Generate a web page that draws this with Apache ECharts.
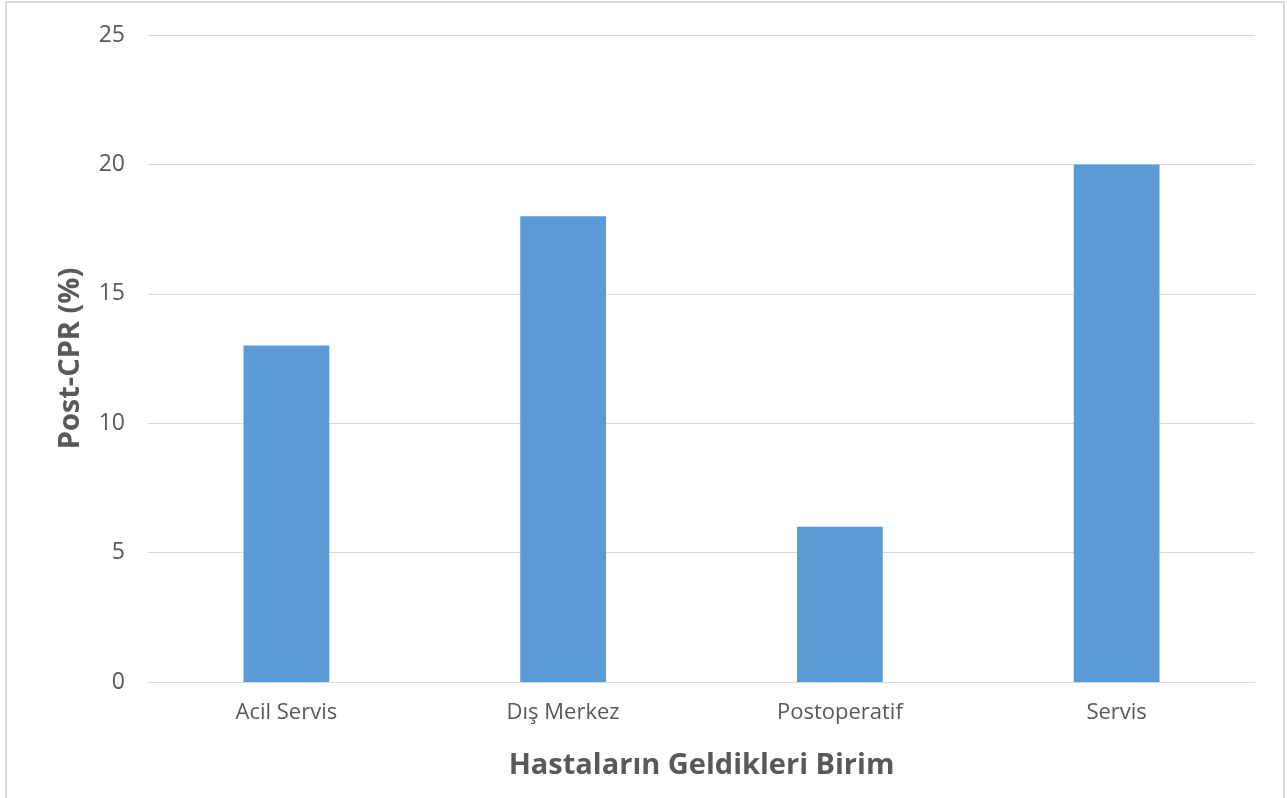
<!DOCTYPE html>
<html>
<head>
<meta charset="utf-8">
<script src="https://cdn.jsdelivr.net/npm/echarts@6/dist/echarts.min.js"></script>
<style>
  html, body { margin: 0; padding: 0; background: #fff; }
  #chart { width: 1287px; height: 798px; }
</style>
</head>
<body>
<div id="chart"></div>
<script>
// veriler
const categories = ["Acil Servis", "Dış Merkez", "Postoperatif", "Servis"];
const postCpr = [13, 18, 6, 20];
const yTicks = [0, 5, 10, 15, 20, 25];

const chartDom = document.getElementById("chart");
const myChart = echarts.init(chartDom);

const option = {
  animation: false,
  textStyle: { fontFamily: "Open Sans" },
  grid: { left: 148, right: 32, top: 35, bottom: 116 },
  graphic: [
    {
      type: "rect",
      shape: { x: 6, y: 2, width: 1278, height: 802 },
      style: { fill: "none", stroke: "#d9d9d9", lineWidth: 2 },
      silent: true,
    },
  ],
  xAxis: {
    type: "category",
    data: categories,
    name: "Hastaların Geldikleri Birim",
    nameLocation: "middle",
    nameGap: 69,
    nameTextStyle: { fontSize: 29, fontWeight: "bold", color: "#595959" },
    axisTick: { show: false },
    axisLine: { lineStyle: { color: "#d9d9d9", width: 1 } },
    axisLabel: { fontSize: 22, color: "#595959", margin: 20 },
  },
  yAxis: {
    type: "value",
    min: yTicks[0],
    max: yTicks[yTicks.length - 1],
    interval: 5,
    name: "Post-CPR (%)",
    nameLocation: "middle",
    nameRotate: 90,
    nameGap: 63,
    nameTextStyle: { fontSize: 29, fontWeight: "bold", color: "#595959" },
    axisLine: { show: false },
    axisTick: { show: false },
    axisLabel: { fontSize: 23, color: "#595959", margin: 23 },
    splitLine: { lineStyle: { color: "#d9d9d9", width: 1 } },
  },
  series: [
    {
      type: "bar",
      data: postCpr,
      barWidth: "31%",
      itemStyle: { color: "#5B9BD5" },
    },
  ],
};

option && myChart.setOption(option);
</script>
</body>
</html>
